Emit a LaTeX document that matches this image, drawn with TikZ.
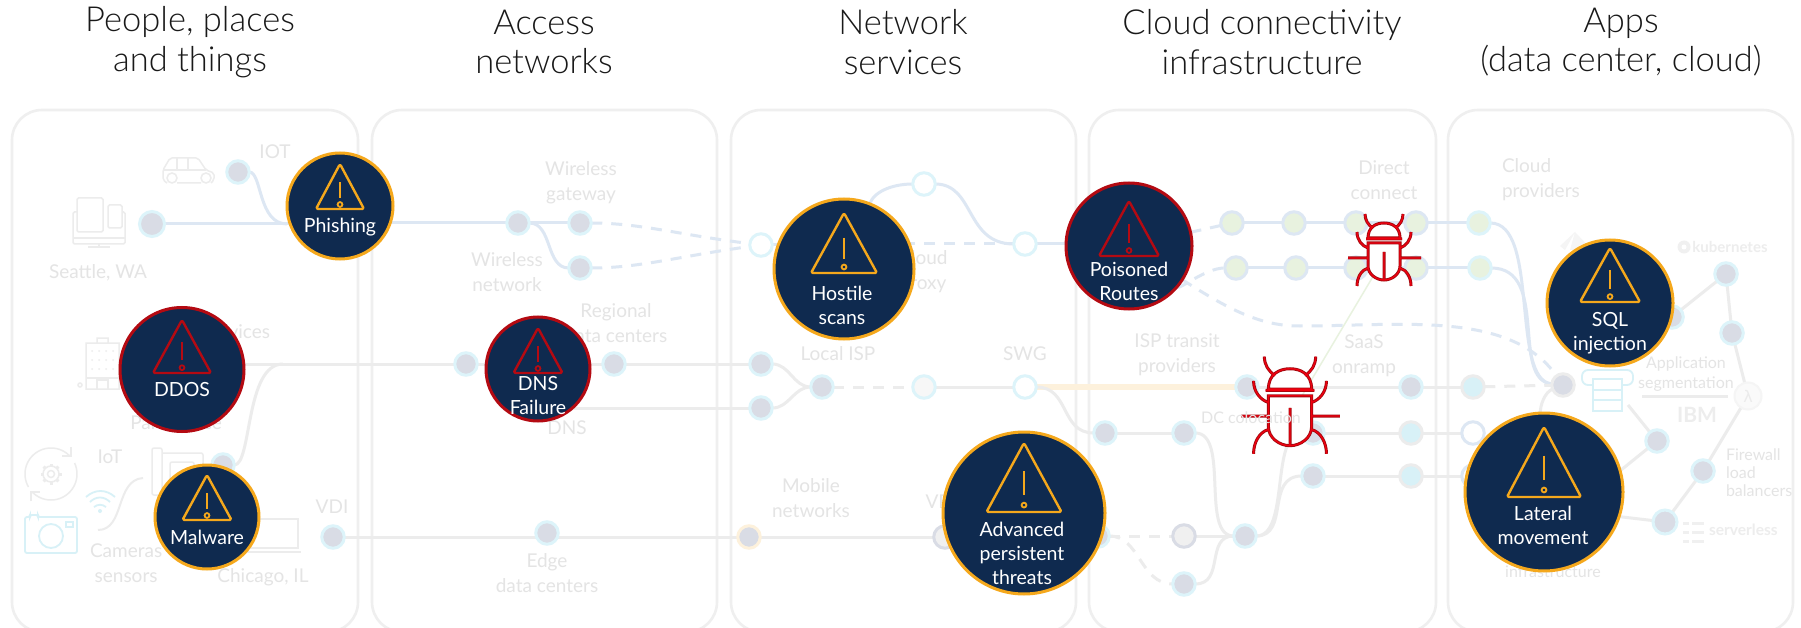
\documentclass[tikz,border=0pt]{standalone}
\usepackage{fontspec}
\setmainfont{Lato}
\newfontfamily\hdfont{Lato Light}
\newfontfamily\djfont{DejaVu Sans}
\usetikzlibrary{calc}
\definecolor{panelc}{HTML}{EFEFEF}
\definecolor{faint}{HTML}{E4E4E4}
\definecolor{blueline}{HTML}{DDE7F3}
\definecolor{greyline}{HTML}{ECECEC}
\definecolor{halo}{HTML}{DDF4FA}
\definecolor{nodegrey}{HTML}{D9DCE5}
\definecolor{greenfill}{HTML}{E8F2DF}
\definecolor{cyanfill}{HTML}{D8F1F7}
\definecolor{navyc}{HTML}{0F2A4F}
\definecolor{amberc}{HTML}{F5A81C}
\definecolor{crimc}{HTML}{B40A12}
\definecolor{orangel}{HTML}{FDF1DC}
\definecolor{bugdark}{HTML}{A00A0F}
\definecolor{bugbright}{HTML}{F0000F}
\pgfdeclarelayer{panels}
\pgfdeclarelayer{lines}
\pgfsetlayers{panels,lines,main}
\tikzset{
 panelbox/.style={draw=panelc,line width=2.6pt,rounded corners=30pt},
 headtext/.style={font=\hdfont\fontsize{34.5}{39.5}\selectfont,text=black!90,align=center,inner sep=0,outer sep=0},
 lab/.style={font=\fontsize{19}{25}\selectfont,text=faint,align=center,inner sep=0,outer sep=0},
 boldlab/.style={font=\bfseries\fontsize{15.5}{25}\selectfont,text=black!7,inner sep=0,outer sep=0},
 threatlab/.style={font=\fontsize{19.5}{24}\selectfont,text=white,align=center,inner sep=0,outer sep=0},
 dotn/.style={circle,inner sep=0,outer sep=0,minimum size=22.5pt,line width=3pt,draw=halo,fill=nodegrey},
 whiten/.style={dotn,fill=white},
 softn/.style={dotn,fill=black!3},
 greenn/.style={dotn,fill=greenfill,draw=blueline},
 greyrim/.style={dotn,fill=black!6,draw=nodegrey},
 cyann/.style={dotn,fill=cyanfill,draw=greyline},
 bluerim/.style={dotn,fill=white,draw=blueline},
 blueconn/.style={draw=blueline,line width=3pt},
 greyconn/.style={draw=greyline,line width=3pt},
 dashc/.style={dash pattern=on 11pt off 9pt},
 iconline/.style={draw=greyline,line width=1.5pt},
 iconcyan/.style={draw=cyanfill,line width=1.8pt},
 threatdisc/.style={circle,inner sep=0,outer sep=0,fill=navyc,line width=3pt},
}
% name, cx, cy, radius, colour, apex y, base y, half width
\newcommand{\threat}[8]{%
 \node[threatdisc,draw=#5,minimum size=#4*2pt] (#1) at (#2,#3) {};
 \draw[#5,line width=2.4pt,rounded corners=1.6pt,line join=round]
   (#2,#6) -- (#2-#8,#7) -- (#2+#8,#7) -- cycle;
 \draw[#5,line width=2.4pt] (#2,{#6+0.41*(#7-#6)}) -- (#2,{#6+0.76*(#7-#6)});
 \draw[#5,line width=1.8pt] (#2,{#6+0.9*(#7-#6)}) circle[radius=2.4pt];
}
\newcommand{\bugpath}{%
 (-16,-20) .. controls (-16,-31) and (-8,-35) .. (0,-35) .. controls (8,-35) and (16,-31) .. (16,-20) -- cycle
 (-18,-19) -- (18,-19)
 (-16,-15) -- (16,-15) -- (16,8) .. controls (16,16) and (8,22) .. (0,22) .. controls (-8,22) and (-16,16) .. (-16,8) -- cycle
 (0,-6) -- (0,22)
 (-36,0) -- (-16,0) (16,0) -- (37,0)
 (-16,-10) .. controls (-22,-12) and (-27,-18) .. (-27,-26)
 (16,-10) .. controls (22,-12) and (27,-18) .. (27,-26)
 (-16,10) .. controls (-23,12) and (-27,20) .. (-27,28)
 (16,10) .. controls (23,12) and (27,20) .. (27,28)
 (-11,-30) .. controls (-16,-33) and (-19,-38) .. (-19,-44)
 (11,-30) .. controls (16,-33) and (19,-38) .. (19,-44)
}
\newcommand{\bug}[3]{%
 \begin{scope}[shift={(#1,#2)},scale=#3]
  \fill[white] (-16,-20) .. controls (-16,-31) and (-8,-35) .. (0,-35) .. controls (8,-35) and (16,-31) .. (16,-20) -- cycle;
  \fill[white] (-16,-15) -- (16,-15) -- (16,8) .. controls (16,16) and (8,22) .. (0,22) .. controls (-8,22) and (-16,16) .. (-16,8) -- cycle;
  \draw[bugdark,line width=3pt] \bugpath;
  \draw[bugbright,line width=1.3pt] \bugpath;
 \end{scope}
}
\begin{document}
\begin{tikzpicture}[x=1pt,y=-1pt]
\useasboundingbox (0,0) rectangle (1801,628);

\begin{pgfonlayer}{panels}
 \fill[white] (0,0) rectangle (1801,628);
 \draw[panelbox] (12,110) rectangle (358,632);
 \draw[panelbox] (372,110) rectangle (717,632);
 \draw[panelbox] (731,110) rectangle (1076,632);
 \draw[panelbox] (1089,110) rectangle (1436,632);
 \draw[panelbox] (1448,110) rectangle (1793,632);
\end{pgfonlayer}

% headings
\node[headtext] (h1) at (190,42) {People, places\\and things};
\node[headtext] (h2) at (544,42) {Access\\networks};
\node[headtext] (h3) at (903,42) {Network\\services};
\node[headtext] (h4) at (1262,42) {Cloud connectivity\\infrastructure};
\node[headtext] (h5) at (1621,42) {Apps\\(data center, cloud)};

% faint labels
\node[lab] (tiot) at (275,152) {IOT};
\node[lab] (tseattle) at (98,273) {Seattle, WA};
\node[lab,anchor=east] (tdevices) at (270,332) {Devices};
\node[lab] (tparis) at (176,423) {Paris office};
\node[lab] (tiot2) at (110,457) {IoT};
\node[lab,anchor=north west] (tcam) at (90,544) {Cameras\\sensors};
\node[lab] (tchicago) at (263,577) {Chicago, IL};
\node[lab] (tvdi) at (332,507) {VDI};
\node[lab] (twg) at (581,183) {Wireless\\gateway};
\node[lab] (twn) at (507,272) {Wireless\\network};
\node[lab] (treg) at (616,323) {Regional\\data centers};
\node[lab] (tdns) at (567,428) {DNS};
\node[lab] (tedge) at (547,573) {Edge\\data centers};
\node[lab] (tmobile) at (811,498) {Mobile\\networks};
\node[lab] (tvpn) at (945,502) {VPN};
\node[lab] (tcloudp) at (923,272) {Cloud\\proxy};
\node[lab] (tlisp) at (838,354) {Local ISP};
\node[lab] (tswg) at (1025,354) {SWG};
\node[lab] (tdirect) at (1384,180) {Direct\\connect};
\node[lab] (tisp) at (1177,355) {ISP transit\\providers};
\node[lab] (tsaas) at (1364,356) {SaaS\\onramp};
\node[lab,anchor=west,align=left] (tcprov) at (1502,180) {Cloud\\providers};
\node[lab,font=\fontsize{16}{20}\selectfont] (tappseg) at (1686,374) {Application\\segmentation};
\node[lab,anchor=west,align=left,font=\fontsize{16}{18}\selectfont] (tfw) at (1726,473) {Firewall\\load\\balancers};
\node[lab,font=\fontsize{16}{20}\selectfont] (tinfra) at (1553,572) {infrastructure};
\node[boldlab,font=\bfseries\fontsize{15}{20}\selectfont] (tk8s) at (1730,247) {kubernetes};
\node[boldlab,font=\bfseries\fontsize{21}{24}\selectfont] (tibm) at (1697,415) {IBM};
\node[boldlab,anchor=west] (tserverless) at (1709,530) {serverless};

% access-side icons
\draw[iconline,rounded corners=1.5pt] (77,198) rectangle (103,232);
\draw[iconline,rounded corners=1.5pt] (108,205) rectangle (122,228);
\draw[iconline,rounded corners=1.5pt] (77,212) -- (73,212) -- (73,244) -- (125,244) -- (125,212) -- (122,212);
\draw[iconline] (73,238) -- (125,238) (99,244) -- (99,247) (88,247) -- (110,247);
\draw[iconline,rounded corners=2pt] (167,183) -- (163,180) -- (163,170) -- (170,158) -- (198,158) -- (206,170) -- (214,173) -- (214,180) -- (211,183) (177,183) -- (201,183);
\draw[iconline] (163,170) -- (206,170) (177,158) -- (177,170) (188,158) -- (188,170);
\draw[iconline] (172,178) circle[radius=5pt] (206,178) circle[radius=5pt];
% building
\draw[iconline] (86,389) rectangle (119,343) (97,343) -- (97,338) -- (108,338) -- (108,343) (80,385) circle[radius=2pt];
\foreach \bx in {92,99,106,113} {\foreach \by in {351,360,369} {\fill[greyline] (\bx,\by) circle[radius=1pt];}}
\draw[iconline] (86,378) -- (119,378) (97,389) -- (97,380) -- (108,380) -- (108,389);
% gear with refresh arrows
\draw[iconline,line join=round] plot[domain=150:315,samples=40] ({51+26*cos(\x)},{474+26*sin(\x)});
\draw[iconline,line join=round] plot[domain=-25:135,samples=40] ({51+26*cos(\x)},{474+26*sin(\x)});
\draw[iconline] (71,447) -- (71,456) -- (62,456) (31,501) -- (31,492) -- (40,492);
\draw[iconline] (51,474) circle[radius=3.5pt] (51,474) circle[radius=8pt];
\foreach \ang in {0,45,...,315} {\draw[greyline,line width=3pt] ({51+8*cos(\ang)},{474+8*sin(\ang)}) -- ({51+10.5*cos(\ang)},{474+10.5*sin(\ang)});}
% camera, wifi
\draw[iconcyan,rounded corners=2pt] (25,517) -- (30,517) -- (30,515) -- (38,515) -- (38,517) -- (77,517) -- (77,553) -- (25,553) -- cycle;
\draw[iconcyan] (51,536) circle[radius=12pt];
\draw[iconcyan] (66,522) rectangle (73,527);
\draw[iconcyan] (86,497) .. controls (95,489) and (106,489) .. (115,497)
  (90,502) .. controls (96,496) and (104,496) .. (110,502)
  (94,507) .. controls (98,504) and (102,504) .. (106,507);
\fill[cyanfill] (100,511) circle[radius=2pt];
\draw[iconline,line width=2pt] (98,530) .. controls (125,530) and (115,480) .. (143,478);
\draw[iconline,rounded corners=2pt] (152,448) rectangle (162,495) (162,453) -- (203,453) -- (203,495) -- (162,495) (170,462) rectangle (194,490);
\draw[iconline] (220,519) -- (298,519) -- (298,548) -- (220,548) (215,552) -- (301,552);

% right-side icons
\fill[black!4] (1575,232) -- (1565,250) -- (1560,246) -- cycle (1575,232) -- (1592,250) -- (1570,250) -- cycle;
\fill[black!6] (1684,247) circle[radius=6.5pt];
\fill[white] (1684,247) circle[radius=2.5pt];
\foreach \yy in {523,532,541} {\draw[black!6,line width=3pt] (1683,\yy) -- (1689,\yy) (1692,\yy) -- (1704,\yy);}
\draw[iconcyan] (1593,379) rectangle (1622,411) (1593,390) -- (1622,390) (1593,400) -- (1622,400);
\draw[iconcyan,rounded corners=6pt] (1593,385) -- (1582,385) -- (1582,370) -- (1633,370) -- (1633,385) -- (1622,385);

% nodes
\node[dotn] (iot) at (238,172) {};
\node[dotn,minimum size=25pt] (seattle) at (152,224) {};
\node[dotn] (malnode) at (223,465) {};
\node[dotn] (vdi) at (333,537) {};
\node[dotn] (wn) at (518,223) {};
\node[dotn] (wg) at (580,223) {};
\node[dotn] (wl) at (580,268) {};
\node[dotn] (dnsl) at (466,364) {};
\node[dotn] (reg) at (614,364) {};
\node[dotn] (edge) at (547,533) {};
\node[whiten] (hub) at (761,245) {};
\node[whiten] (top) at (924,184) {};
\node[whiten] (cp) at (1025,244) {};
\node[dotn] (isp1) at (761,364) {};
\node[dotn] (isp2) at (761,408) {};
\node[dotn] (lisp) at (822,387) {};
\node[softn] (mid) at (924,387) {};
\node[whiten] (swg) at (1025,387) {};
\node[dotn,draw=orangel] (mob) at (749,537) {};
\node[greyrim] (vpn) at (945,537) {};
\node[greenn] (g1) at (1232,223) {};
\node[greenn] (g2) at (1294,223) {};
\node[greenn] (g3) at (1356,223) {};
\node[greenn] (g4) at (1416,223) {};
\node[greenn] (k1) at (1236,268) {};
\node[greenn] (k2) at (1296,268) {};
\node[greenn] (k3) at (1356,268) {};
\node[greenn] (k4) at (1416,268) {};
\node[dotn] (a1) at (1247,387) {};
\node[dotn] (a2) at (1411,387) {};
\node[cyann] (a3) at (1473,387) {};
\node[dotn] (b1) at (1105,433) {};
\node[dotn] (b2) at (1184,433) {};
\node[dotn] (b3) at (1313,433) {};
\node[cyann] (b4) at (1411,433) {};
\node[bluerim] (b5) at (1473,433) {};
\node[dotn] (c1) at (1313,476) {};
\node[cyann] (c2) at (1411,476) {};
\node[bluerim] (c3) at (1473,476) {};
\node[dotn] (d0) at (1098,536) {};
\node[greyrim] (d1) at (1184,536) {};
\node[dotn] (d2) at (1184,584) {};
\node[dotn] (d3) at (1245,536) {};
\node[dotn,fill=greenfill] (cp1) at (1479,223) {};
\node[dotn,fill=greenfill] (cp2) at (1480,268) {};
\node[dotn,draw=greyline] (fab) at (1563,385) {};
\node[dotn] (az) at (1672,317) {};
\node[dotn] (k8) at (1726,274) {};
\node[dotn] (k9) at (1732,333) {};
\node[circle,draw=black!4,fill=black!2,line width=2pt,minimum size=27pt,inner sep=0,outer sep=0,text=black!8,font=\djfont\fontsize{16}{16}\selectfont] (lam) at (1748,396) {λ};
\node[dotn] (ibm) at (1657,441) {};
\node[dotn] (fw) at (1703,471) {};
\node[dotn,minimum size=24pt] (srv) at (1665,522) {};

% helper points
\coordinate (j1) at (283,364);
\coordinate (lats) at (1600,487);
\coordinate (latb) at (1580,512);
\coordinate (segl) at (1642,396);
\coordinate (segr) at (1728,396);
\coordinate (srvtop) at (1628,405);

% bugs
\coordinate (bugA) at (1384,258);
\coordinate (bugB) at (1290,416);
\bug{1384}{258}{1}
\bug{1290}{416}{1.35}
\node[lab,font=\fontsize{16}{20}\selectfont] (tdc) at (1251,418) {DC colocation};

% threats
\threat{phish}{340}{206}{53}{amberc}{164}{209}{24}
\threat{ddos}{182}{369.5}{62}{crimc}{320}{373}{29}
\threat{malw}{207}{517}{52}{amberc}{475}{520}{24.5}
\threat{dnsf}{538}{369}{52}{crimc}{328}{373}{24.5}
\threat{hostile}{844}{269}{70}{amberc}{213}{273}{33}
\threat{poison}{1129}{246}{63}{crimc}{201}{256}{30}
\threat{apt}{1024}{513}{81}{amberc}{443}{512}{37.5}
\threat{sqlin}{1610}{303}{63}{amberc}{248}{302}{30}
\threat{later}{1544}{492}{79}{amberc}{427}{497}{37}
\node[threatlab] (lphish) at (340,227) {Phishing};
\node[threatlab] (lddos) at (182,390) {DDOS};
\node[threatlab] (lmalw) at (207,537) {Malware};
\node[threatlab] (ldnsf) at (538,396) {DNS\\Failure};
\node[threatlab] (lhost) at (842,305) {Hostile\\scans};
\node[threatlab] (lpois) at (1129,281) {Poisoned\\Routes};
\node[threatlab] (lapt) at (1022,553) {Advanced\\persistent\\threats};
\node[threatlab] (lsql) at (1610,333) {SQL\\injection};
\node[threatlab] (llat) at (1543,525) {Lateral\\movement};

% connectors
\begin{pgfonlayer}{lines}
 \draw[blueconn] (seattle) -- (seattle -| phish);
 \draw[blueconn] (iot) .. controls (262,172) and (258,224) .. (seattle -| phish.west);
 \draw[blueconn] (wn -| phish) -- (wn);
 \draw[blueconn] (wn) -- (wg);
 \draw[blueconn] (wn) to[out=0,in=180] (wl);
 \draw[blueconn,dashc] (wg) .. controls (640,223) and (680,235) .. (hub);
 \draw[blueconn,dashc] (wl) .. controls (640,268) and (680,256) .. (hub);
 \draw[blueconn] (hub) -- (hub -| hostile);
 \draw[blueconn] (hostile) .. controls (875,190) and (895,184) .. (top);
 \draw[blueconn] (top) .. controls (975,184) and (965,244) .. (cp);
 \draw[blueconn,dashc] (cp -| hostile) -- (cp);
 \draw[blueconn] (cp) -- (cp -| poison);
 \draw[blueconn,dashc] (poison) -- (g1);
 \draw[blueconn,dashc] (poison) .. controls (1180,290) and (1205,268) .. (k1);
 \draw[blueconn] (g1) -- (g2);
 \draw[blueconn] (g2) -- (g3);
 \draw[blueconn] (g3) -- (g4);
 \draw[blueconn] (g4) -- (cp1);
 \draw[blueconn] (k1) -- (k2);
 \draw[blueconn] (k2) -- (k3);
 \draw[blueconn] (k3) -- (k4);
 \draw[blueconn] (k4) -- (cp2);
 \draw[blueconn] (cp1) .. controls (1540,223) and (1510,380) .. (fab);
 \draw[blueconn] (cp2) .. controls (1550,268) and (1510,380) .. (fab);
 \draw[blueconn,dashc] (poison) .. controls (1230,310) and (1260,326) .. (1300,326) .. controls (1400,326) and (1510,310) .. (fab);
 \draw[line width=1.5pt,draw=greenfill] (bugB) -- (bugA);

 \draw[greyconn] (dnsl -| ddos) -- (dnsl);
 \draw[greyconn] (malnode) .. controls (252,465) and (245,364) .. (j1);
 \draw[greyconn] (dnsl) -- (dnsl -| dnsf);
 \draw[greyconn] (reg -| dnsf) -- (reg);
 \draw[greyconn] (reg) -- (isp1);
 \draw[greyconn] (isp2 -| dnsf) -- (isp2);
 \draw[greyconn] (isp1) to[out=0,in=180] (lisp);
 \draw[greyconn] (isp2) to[out=0,in=180] (lisp);
 \draw[greyconn,dashc] (lisp) -- (mid);
 \draw[greyconn] (mid) -- (swg);
 \draw[orangel,line width=6pt] (swg) -- (a1);
 \draw[greyconn] (swg) .. controls (1070,387) and (1060,433) .. (b1);
 \draw[greyconn] (b1) -- (b2);
 \draw[greyconn] (b2) .. controls (1230,433) and (1200,536) .. (d3);
 \draw[greyconn] (a1) -- (a2);
 \draw[greyconn] (a2) -- (a3);
 \draw[greyconn] (b3) -- (b4);
 \draw[greyconn] (b4) -- (b5);
 \draw[greyconn] (c1) -- (c2);
 \draw[greyconn] (c2) -- (c3);
 \draw[greyconn] (d3) .. controls (1290,536) and (1270,433) .. (b3);
 \draw[greyconn] (d3) .. controls (1290,536) and (1265,476) .. (c1);
 \draw[greyconn,dashc] (d0) -- (d1);
 \draw[greyconn,dashc] (d0) .. controls (1140,536) and (1140,584) .. (d2);
 \draw[greyconn] (d1) -- (d3);
 \draw[greyconn] (d2) .. controls (1225,584) and (1205,536) .. (d3);
 \draw[greyconn,dashc] (a3) -- (fab);
 \draw[greyconn] (vdi) -- (mob);
 \draw[greyconn] (mob) -- (vpn);
 \draw[greyconn] (vpn) -- (vpn -| apt);
 \draw[greyconn] (fab) .. controls (1545,392) and (1540,405) .. (later);
 \draw[greyconn] (az) -- (k8);
 \draw[greyconn] (az) -- (sqlin);
 \draw[greyconn] (k8) -- (k9);
 \draw[greyconn] (k9) -- (lam);
 \draw[greyconn] (lam) -- (fw);
 \draw[greyconn] (fw) -- (srv);
 \draw[greyconn] (srv) -- (latb);
 \draw[greyconn] (ibm) -- (lats);
 \draw[greyconn] (srvtop) -- (ibm);
 \draw[greyconn] (segl) -- (segr);
\end{pgfonlayer}
\end{tikzpicture}
\end{document}
